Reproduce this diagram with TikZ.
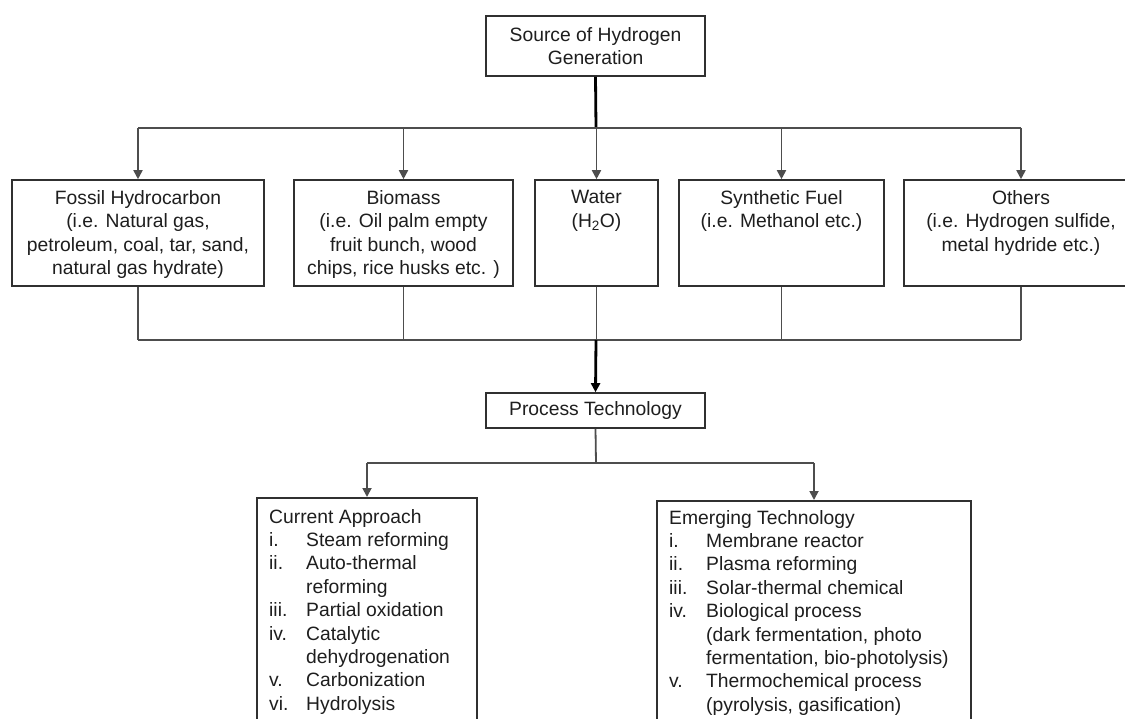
\documentclass[tikz,border=0pt]{standalone}
\usepackage{fontspec}
\setmainfont{Liberation Sans}
\usetikzlibrary{arrows.meta}
\definecolor{ink}{HTML}{1e1e1e}
\definecolor{edge}{HTML}{303030}
\definecolor{wirec}{HTML}{4d4d4d}
\begin{document}
\begin{tikzpicture}[x=1pt,y=-1pt,
  box/.style={draw=edge,line width=1.6pt,inner sep=0pt,fill=white},
  txt/.style={font=\fontsize{19.3}{23.4}\selectfont,text=ink,inner sep=0pt,align=center},
  wire/.style={draw=wirec,line width=1.8pt},
  trunk/.style={draw=black,line width=2.8pt},
  arr/.style={-{Triangle[length=9pt,width=9pt]}}]
\useasboundingbox (0,0) rectangle (1125,719);
\clip (0,0) rectangle (1125,719);

% top node
\node[box,txt,minimum width=219pt,minimum height=60pt] (src) at (595.5,46) {Source of Hydrogen\\Generation};

% source boxes
\node[box,minimum width=252pt,minimum height=106pt] (fossil) at (138,233) {};
\node[box,minimum width=219pt,minimum height=106pt] (bio) at (403.5,233) {};
\node[box,minimum width=123pt,minimum height=106pt] (water) at (596.5,233) {};
\node[box,minimum width=205pt,minimum height=106pt] (syn) at (781.5,233) {};
\node[box,minimum width=234pt,minimum height=106pt] (oth) at (1021,233) {};

\node[txt,anchor=north] (fossilt) at ([yshift=-11pt]fossil.north) {Fossil Hydrocarbon\\(i.e. Natural gas,\\petroleum, coal, tar, sand,\\natural gas hydrate)};
\node[txt,anchor=north] (biot) at ([yshift=-11pt]bio.north) {Biomass\\(i.e. Oil palm empty\\fruit bunch, wood\\chips, rice husks etc. )};
\node[txt,anchor=north] (watert) at ([yshift=-11pt]water.north) {Water\\(H\textsubscript{2}O)};
\node[txt,anchor=north] (synt) at ([yshift=-11pt]syn.north) {Synthetic Fuel\\(i.e. Methanol etc.)};
\node[txt,anchor=north] (otht) at ([yshift=-11pt]oth.north) {Others\\(i.e. Hydrogen sulfide,\\metal hydride etc.)};

% process technology
\node[box,txt,minimum width=219pt,minimum height=35pt] (proc) at (595.5,410.5) {Process Technology};

% bottom boxes
\node[box,minimum width=220pt,minimum height=260pt,anchor=north] (cur) at (367,497) {};
\node[box,minimum width=314pt,minimum height=260pt,anchor=north] (emer) at (814,500) {};

\node[txt,align=left,anchor=north west] (curt) at (269,509) {Current Approach\\
\makebox[37pt][l]{i.}Steam reforming\\
\makebox[37pt][l]{ii.}Auto-thermal\\
\hspace*{37pt}reforming\\
\makebox[37pt][l]{iii.}Partial oxidation\\
\makebox[37pt][l]{iv.}Catalytic\\
\hspace*{37pt}dehydrogenation\\
\makebox[37pt][l]{v.}Carbonization\\
\makebox[37pt][l]{vi.}Hydrolysis};

\node[txt,align=left,anchor=north west] (emert) at (669,510) {Emerging Technology\\
\makebox[37pt][l]{i.}Membrane reactor\\
\makebox[37pt][l]{ii.}Plasma reforming\\
\makebox[37pt][l]{iii.}Solar-thermal chemical\\
\makebox[37pt][l]{iv.}Biological process\\
\hspace*{37pt}(dark fermentation, photo\\
\hspace*{37pt}fermentation, bio-photolysis)\\
\makebox[37pt][l]{v.}Thermochemical process\\
\hspace*{37pt}(pyrolysis, gasification)};

% junction coordinates
\coordinate (busT) at (596,128);
\coordinate (busB) at (596,340);
\coordinate (busP) at (596,463);

% top distribution
\draw[trunk] (src.south) -- (busT);
\draw[wire] (busT -| fossil.north) -- (busT -| oth.north);
\foreach \n in {fossil,bio,water,syn,oth}{
  \draw[wire,arr] (busT -| \n.north) -- (\n.north);
}

% collection
\foreach \n in {fossil,bio,water,syn,oth}{
  \draw[wire] (\n.south) -- (busB -| \n.south);
}
\draw[wire] (busB -| fossil.south) -- (busB -| oth.south);
\draw[trunk,arr] (busB) -- (proc.north);

% process split
\draw[wire] (proc.south) -- (busP);
\draw[wire] (busP -| cur.north) -- (busP -| emer.north);
\draw[wire,arr] (busP -| cur.north) -- (cur.north);
\draw[wire,arr] (busP -| emer.north) -- (emer.north);
\end{tikzpicture}
\end{document}
